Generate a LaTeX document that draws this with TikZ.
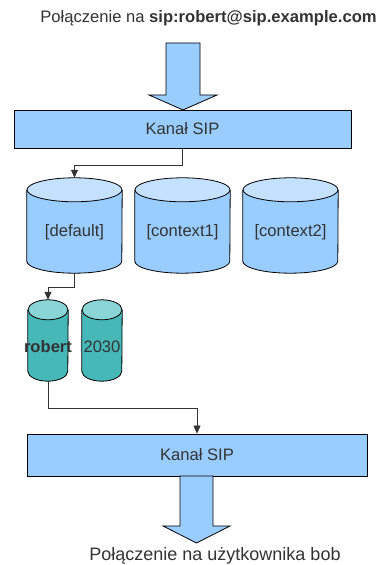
\documentclass[tikz,border=0pt]{standalone}
\usepackage{fontspec}
\setmainfont{Liberation Sans}
\usetikzlibrary{arrows.meta}
\definecolor{boxblue}{HTML}{99CCFF}
\definecolor{topblue}{HTML}{C4E2FF}
\definecolor{teal1}{HTML}{47B8B8}
\definecolor{teal2}{HTML}{8AD5D5}
\definecolor{txt}{HTML}{333333}
\definecolor{lin}{HTML}{333333}
\tikzset{
  chanbox/.style={draw=black, line width=0.8pt, fill=boxblue, minimum width=#1, inner sep=0pt, text=txt, font=\fontsize{16.6}{18}\selectfont},
  cylbox/.style={inner sep=0pt, minimum width=#1},
  cyltext/.style={text=txt, font=\fontsize{16.6}{18}\selectfont, inner sep=0pt},
  conn/.style={draw=lin, line width=0.8pt, -{Triangle[length=8pt,width=7pt]}},
  bigarrow/.style={draw=black, line width=0.8pt, fill=boxblue, line join=miter},
  cylline/.style={draw=black, line width=0.8pt}
}
% \cylinder{name}{width}{ry}{body}{top}
\newcommand{\mycyl}[5]{%
  \path[fill=#4] ([yshift=-#3pt]#1.north west) -- ([yshift=#3pt]#1.south west)
     arc[start angle=180,end angle=360,x radius=#2pt/2,y radius=#3pt]
     -- ([yshift=-#3pt]#1.north east) -- cycle;
  \draw[cylline] ([yshift=-#3pt]#1.north west) -- ([yshift=#3pt]#1.south west)
     arc[start angle=180,end angle=360,x radius=#2pt/2,y radius=#3pt]
     -- ([yshift=-#3pt]#1.north east);
  \draw[cylline, fill=#5] ([yshift=-#3pt]#1.north) ellipse[x radius=#2pt/2, y radius=#3pt];
}
\begin{document}
\begin{tikzpicture}[x=1pt,y=1pt]
\useasboundingbox (0,0) rectangle (382,565);
\fill[white] (0,0) rectangle (382,565);

% top text
\node[text=txt, font=\fontsize{16.6}{18}\selectfont, inner sep=0pt] (toptext) at (208.5,547) {Połączenie na \textbf{sip:robert@sip.example.com}};

% top big arrow
\draw[bigarrow] (166,522) -- (200,522) -- (200,470) -- (217,470) -- (183,455) -- (149,470) -- (166,470) -- cycle;

% channel box 1
\node[chanbox=337pt, minimum height=38pt] (box1) at (182.5,436) {Kanał SIP};

% context cylinders
\node[cylbox=95pt, minimum height=95pt] (default) at (74.5,339.5) {};
\node[cylbox=95pt, minimum height=95pt] (context1) at (182.5,339.5) {};
\node[cylbox=95pt, minimum height=95pt] (context2) at (290.5,339.5) {};
\mycyl{default}{95}{12}{boxblue}{topblue}
\mycyl{context1}{95}{12}{boxblue}{topblue}
\mycyl{context2}{95}{12}{boxblue}{topblue}
\node[cyltext] (defaultlbl) at (74.5,333) {[default]};
\node[cyltext] (context1lbl) at (182.5,333) {[context1]};
\node[cyltext] (context2lbl) at (290.5,333) {[context2]};

% extension cylinders
\node[cylbox=40pt, minimum height=81pt] (robert) at (48,224.5) {};
\node[cylbox=40pt, minimum height=81pt] (ext2030) at (102,224.5) {};
\mycyl{robert}{40}{10}{teal1}{teal2}
\mycyl{ext2030}{40}{10}{teal1}{teal2}
\node[cyltext, font=\fontsize{16.6}{18}\selectfont\bfseries] (robertlbl) at (48,218) {robert};
\node[cyltext] (ext2030lbl) at (102,218) {2030};

% channel box 2
\node[chanbox=340pt, minimum height=42pt] (box2) at (197,110) {Kanał SIP};

% bottom big arrow
\draw[bigarrow] (180,89) -- (213,89) -- (213,39) -- (230,39) -- (196.5,22) -- (163,39) -- (180,39) -- cycle;

% bottom text
\node[text=txt, font=\fontsize{18}{20}\selectfont, inner sep=0pt] (bottext) at (215,9) {Połączenie na użytkownika bob};

% connectors
\draw[conn] (box1.south) -- ++(0,-17) -| (default.north);
\draw[conn] (default.south) -- ++(0,-14) -| (robert.north);
\draw[conn] (robert.south) -- ++(0,-27) -| (box2.north);
\end{tikzpicture}
\end{document}
